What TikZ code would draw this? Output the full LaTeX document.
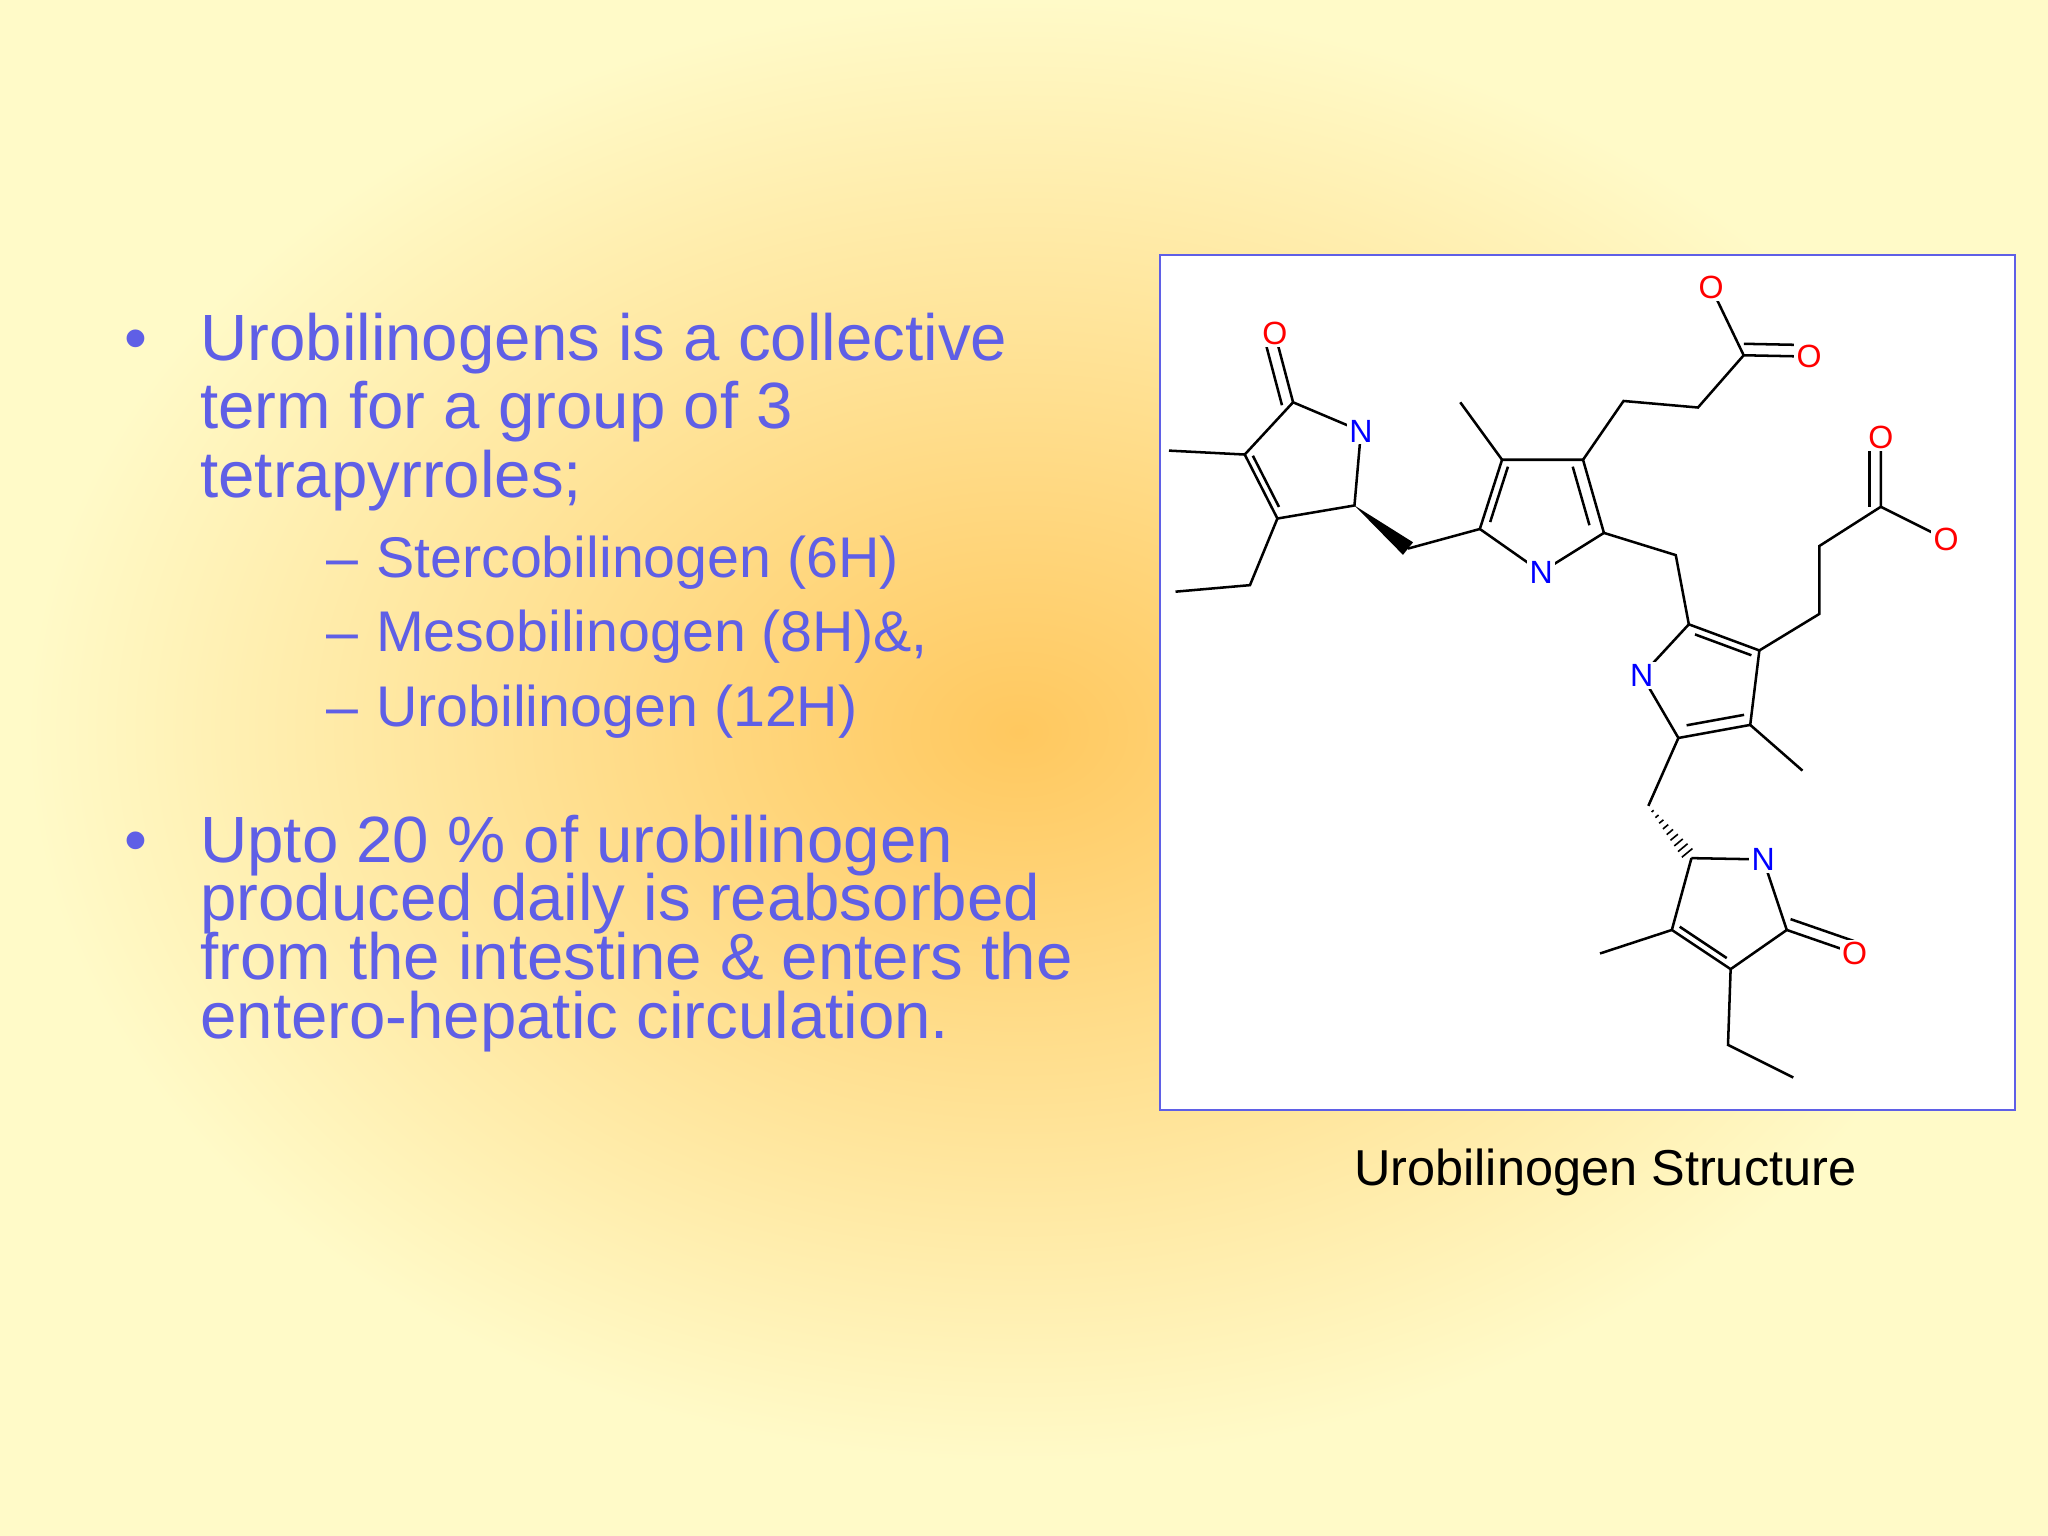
\documentclass[tikz,border=0pt]{standalone}
\usepackage{fontspec}
\setmainfont{Liberation Sans}
\usetikzlibrary{calc}
\definecolor{bg}{RGB}{255,250,200}
\definecolor{orng}{RGB}{255,200,95}
\definecolor{txt}{RGB}{95,95,230}
\tikzset{
 bl/.style={anchor=base west,text=txt,font=\fontsize{28.5}{28.5}\selectfont,inner sep=0},
 sl/.style={anchor=base west,text=txt,font=\fontsize{25}{25}\selectfont,inner sep=0},
 bd/.style={line width=1.1pt},
 atomlbl/.style={fill=white,inner sep=1pt,font=\fontsize{14}{14}\selectfont},
}
\newcommand{\inb}[3]{\draw[bd] ($(#1)!0.2!(#3)$) -- ($(#2)!0.2!(#3)$);}
\newcommand{\dbo}[2]{\draw[bd] ($(#1)!5pt!90:(#2)$) -- ($(#2)!5pt!-90:(#1)$);}
\begin{document}
\begin{tikzpicture}[x=0.02cm,y=-0.02cm]
\useasboundingbox (0,0) rectangle (1568,1176);
\fill[bg] (0,0) rectangle (1568,1176);
\shade[inner color=orng,outer color=bg] (780,560) ellipse (760 and 560);
% text
\node[bl] (b1) at (95,276) {•};
\node[bl] (t1) at (153,276) {Urobilinogens is a collective};
\node[bl] (t2) at (153,328) {term for a group of 3};
\node[bl] (t3) at (153,381) {tetrapyrroles;};
\node[sl] (s1) at (250,442) {–\hspace{0.3em}Stercobilinogen (6H)};
\node[sl] (s2) at (250,499) {–\hspace{0.3em}Mesobilinogen (8H)\&,};
\node[sl] (s3) at (250,556) {–\hspace{0.3em}Urobilinogen (12H)};
\node[bl] (b2) at (95,660) {•};
\node[bl] (u1) at (153,660) {Upto 20 \% of urobilinogen};
\node[bl] (u2) at (153,705) {produced daily is reabsorbed};
\node[bl] (u3) at (153,750) {from the intestine \& enters the};
\node[bl] (u4) at (153,795) {entero-hepatic circulation.};
% frame
\draw[fill=white,draw=txt,line width=0.8pt] (888,195) rectangle (1543,850);
\node[font=\fontsize{22}{22}\selectfont] (cap) at (1229,898) {Urobilinogen Structure};
% atoms
\foreach \n/\p in {O1/{976,255},a1/{990,308},NA/{1042,330},a2/{1037,387},a3/{978,397},a4/{953,348},
 am/{895,345},ae1/{957,448},ae2/{900,453},w/{1078,420},
 b1/{1133,405},NB/{1180,438},b2/{1228,408},b3/{1212,352},b4/{1150,352},bm/{1118,308},
 bc1/{1243,307},bc2/{1300,312},bc3/{1335,272},bO1/{1385,273},bO2/{1310,220},
 ch/{1283,425},c1/{1293,478},c2/{1347,498},c3/{1340,555},c4/{1285,565},NC/{1257,517},
 cc1/{1393,470},cc2/{1393,418},cc3/{1440,388},cO1/{1440,335},cO2/{1490,413},cm/{1380,590},
 dh/{1262,617},d1/{1295,657},ND/{1350,658},d2/{1368,712},dO/{1420,730},d3/{1325,742},d4/{1280,712},
 dm/{1225,730},de1/{1323,800},de2/{1373,825}}
 \coordinate (\n) at (\p);
\coordinate (cA) at ($(a1)!0.5!(a3)$);
\coordinate (cB) at ($(b1)!0.5!(b3)$);
\coordinate (cC) at ($(c1)!0.5!(c3)$);
\coordinate (cD) at ($(d1)!0.5!(d3)$);
% ring A
\draw[bd] (a1)--(NA)--(a2)--(a3)--(a4)--(a1);
\inb{a3}{a4}{cA}
\draw[bd] (a1)--(O1); \dbo{a1}{O1}
\draw[bd] (a4)--(am); \draw[bd] (a3)--(ae1)--(ae2);
\fill ($(a2)$) -- ($(w)!3.5pt!90:(a2)$) -- ($(w)!3.5pt!-90:(a2)$) -- cycle;
\draw[bd] (w)--(b1);
% ring B
\draw[bd] (b1)--(NB)--(b2)--(b3)--(b4)--(b1);
\inb{b2}{b3}{cB} \inb{b4}{b1}{cB}
\draw[bd] (b4)--(bm);
\draw[bd] (b3)--(bc1)--(bc2)--(bc3)--(bO1); \dbo{bc3}{bO1}
\draw[bd] (bc3)--(bO2);
\draw[bd] (b2)--(ch)--(c1);
% ring C
\draw[bd] (c1)--(c2)--(c3)--(c4)--(NC)--(c1);
\inb{c1}{c2}{cC} \inb{c3}{c4}{cC}
\draw[bd] (c2)--(cc1)--(cc2)--(cc3)--(cO1); \dbo{cc3}{cO1}
\draw[bd] (cc3)--(cO2);
\draw[bd] (c3)--(cm);
\draw[bd] (c4)--(dh);
\foreach \t [evaluate=\t as \w using 0.3+\t*3] in {0.1,0.2,...,0.95}
 \draw[line width=0.7pt] ($(dh)!\t!(d1)!\w pt!90:(d1)$) -- ($(dh)!\t!(d1)!\w pt!-90:(d1)$);
% ring D
\draw[bd] (d1)--(ND)--(d2)--(d3)--(d4)--(d1);
\inb{d3}{d4}{cD}
\draw[bd] (d2)--(dO); \dbo{d2}{dO}
\draw[bd] (d4)--(dm); \draw[bd] (d3)--(de1)--(de2);
% labels
\foreach \n in {NA,NB,NC,ND} \node[atomlbl,text=blue] at (\n) {N};
\foreach \n in {O1,bO1,bO2,cO1,cO2,dO} \node[atomlbl,text=red] at (\n) {O};
\end{tikzpicture}
\end{document}
